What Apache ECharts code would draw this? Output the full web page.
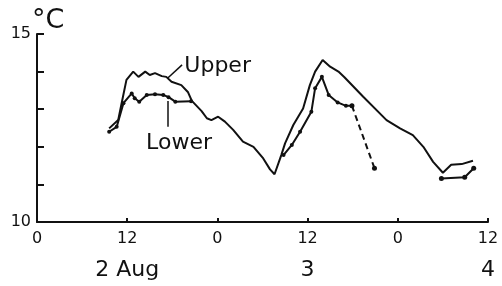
<!DOCTYPE html>
<html>
<head>
<meta charset="utf-8">
<script src="https://cdn.jsdelivr.net/npm/echarts@6/dist/echarts.min.js"></script>
<style>
  html, body { margin: 0; padding: 0; background: #fff; }
  #chart { width: 502px; height: 286px; }
</style>
</head>
<body>
<div id="chart"></div>
<script>
// hours since 00:00 on 2 Aug, temperature in °C
var upperHours = [9.6, 10.8, 11.3, 11.9, 12.8, 13.5, 14.4, 15.0, 15.7, 16.6, 17.2, 17.9, 19.2, 20.1, 20.6, 21.9, 22.6, 23.2, 24.1, 25.0, 26.1, 27.4, 28.8, 30.1, 31.0, 31.6,
                  32.5, 33.0, 34.1, 35.4, 36.3, 37.0, 38.0, 39.0, 40.1, 40.9, 43.4, 46.5, 48.3, 50.0, 51.4, 52.7, 54.0, 55.1, 56.5, 58.0];
var upperTemps = [12.49, 12.71, 13.2, 13.78, 14.0, 13.86, 14.0, 13.91, 13.96, 13.88, 13.86, 13.73, 13.64, 13.45, 13.22, 12.95, 12.76, 12.71, 12.80, 12.67, 12.45, 12.14, 12.0, 11.69, 11.4, 11.27,
                  11.78, 12.09, 12.58, 13.02, 13.64, 14.0, 14.31, 14.13, 14.0, 13.85, 13.33, 12.71, 12.49, 12.31, 12.0, 11.60, 11.31, 11.52, 11.54, 11.63];

var lowerDay2Hours = [9.6, 10.6, 11.5, 12.6, 13.0, 13.6, 14.6, 15.7, 16.8, 17.5, 18.4, 20.5];
var lowerDay2Temps = [12.40, 12.53, 13.16, 13.42, 13.29, 13.2, 13.38, 13.40, 13.38, 13.32, 13.2, 13.21];
var lowerDay3Hours = [32.8, 33.9, 35.0, 36.5, 37.0, 37.9, 38.8, 40.0, 41.1, 41.9];
var lowerDay3Temps = [11.78, 12.05, 12.40, 12.93, 13.56, 13.86, 13.38, 13.18, 13.09, 13.09];
var lowerDashHours = [41.9, 44.9];
var lowerDashTemps = [13.09, 11.43];
var lowerDay4Hours = [53.8, 56.9, 58.1];
var lowerDay4Temps = [11.16, 11.19, 11.43];

var hourTicks = [0, 12, 24, 36, 48, 60];
var dayLabels = { 12: '2 Aug', 36: '3', 60: '4' };

// labels and their leader lines, in data units
var upperLabelAt = [19.6, 14.13];
var upperLeader = [[17.4, 13.83], [19.3, 14.18]];
var lowerLabelAt = [18.9, 12.1];
var lowerLeader = [[17.4, 13.22], [17.4, 12.53]];

function pairs(xs, ys) {
    return xs.map(function (x, i) { return [x, ys[i]]; });
}

var ink = '#111';
var font = 'DejaVu Sans';

var myChart = echarts.init(document.getElementById('chart'));
var option = {
    animation: false,
    backgroundColor: '#fff',
    textStyle: { fontFamily: font, color: ink },
    grid: { left: 37, right: 14, top: 34, bottom: 64 },
    // unit label at the top of the y axis
    graphic: [{
        type: 'text',
        left: 32, top: 7,
        style: { text: '°C', fill: ink, fontSize: 27, fontFamily: font }
    }],
    xAxis: [{
        type: 'value',
        min: 0, max: 60, interval: 12,
        axisLine: { lineStyle: { color: ink, width: 2 } },
        axisTick: { inside: true, length: 4, lineStyle: { color: ink, width: 2 } },
        splitLine: { show: false },
        axisLabel: {
            color: ink, fontSize: 16, margin: 9, fontFamily: font,
            formatter: function (v) { return hourTicks.indexOf(v) >= 0 ? String(v % 24) : ''; }
        }
    }, {
        type: 'value',
        position: 'bottom',
        min: 0, max: 60, interval: 12,
        axisLine: { show: false },
        axisTick: { show: false },
        splitLine: { show: false },
        axisLabel: {
            color: ink, fontSize: 22, margin: 37, fontFamily: font,
            formatter: function (v) { return dayLabels[v] || ''; }
        }
    }],
    yAxis: {
        type: 'value',
        min: 10, max: 15, interval: 1,
        axisLine: { lineStyle: { color: ink, width: 2 } },
        axisTick: { inside: true, length: 7, lineStyle: { color: ink, width: 2 } },
        splitLine: { show: false },
        axisLabel: {
            color: ink, fontSize: 16, margin: 6, fontFamily: font,
            formatter: function (v) { return (v === 10 || v === 15) ? String(v) : ''; }
        }
    },
    series: [{
        name: 'Upper',
        type: 'line',
        data: pairs(upperHours, upperTemps),
        showSymbol: false,
        lineStyle: { color: ink, width: 2 },
        markPoint: {
            symbol: 'circle', symbolSize: 0,
            label: { show: true, position: 'right', distance: 0, color: ink, fontSize: 22, fontFamily: font, formatter: '{b}' },
            data: [{ name: 'Upper', coord: upperLabelAt }, { name: 'Lower', coord: lowerLabelAt,
                label: { position: 'inside' } }]
        },
        markLine: {
            silent: true, symbol: 'none',
            label: { show: false },
            lineStyle: { color: ink, width: 1.5, type: 'solid' },
            data: [
                [{ coord: upperLeader[0] }, { coord: upperLeader[1] }],
                [{ coord: lowerLeader[0] }, { coord: lowerLeader[1] }]
            ]
        }
    }, {
        name: 'Lower 2 Aug',
        type: 'line',
        data: pairs(lowerDay2Hours, lowerDay2Temps),
        symbol: 'circle', symbolSize: 4,
        itemStyle: { color: ink },
        lineStyle: { color: ink, width: 2 }
    }, {
        name: 'Lower 3 Aug',
        type: 'line',
        data: pairs(lowerDay3Hours, lowerDay3Temps),
        symbol: 'circle', symbolSize: 4,
        itemStyle: { color: ink },
        lineStyle: { color: ink, width: 2 }
    }, {
        name: 'Lower dashed',
        type: 'line',
        data: pairs(lowerDashHours, lowerDashTemps),
        symbol: 'circle', symbolSize: 5,
        itemStyle: { color: ink },
        lineStyle: { color: ink, width: 2, type: [6, 4] }
    }, {
        name: 'Lower 4 Aug',
        type: 'line',
        data: pairs(lowerDay4Hours, lowerDay4Temps),
        symbol: 'circle', symbolSize: 5,
        itemStyle: { color: ink },
        lineStyle: { color: ink, width: 2 }
    }]
};
myChart.setOption(option);
</script>
</body>
</html>
